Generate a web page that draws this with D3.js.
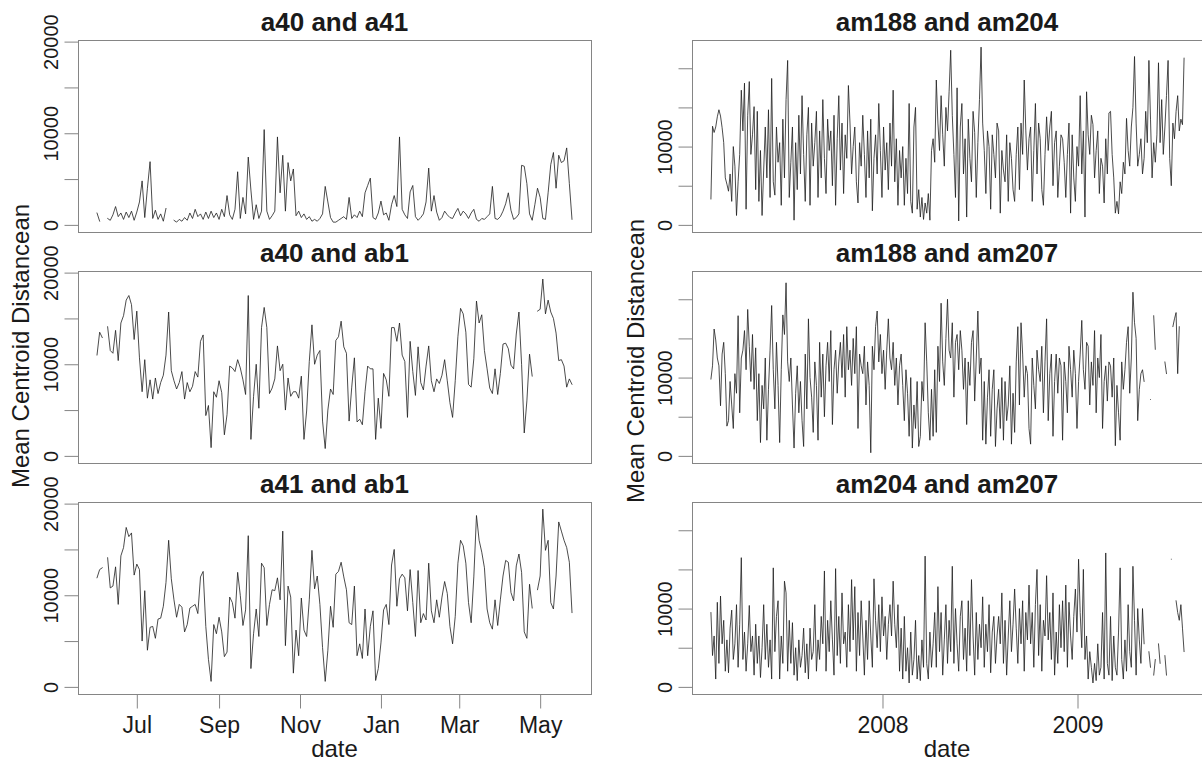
<!DOCTYPE html>
<html>
<head>
<meta charset="utf-8">
<script src="https://cdn.jsdelivr.net/npm/d3@7"></script>
<style>
  body { margin: 0; background: #fff; }
  svg { display: block; }
  text { font-family: "Liberation Sans", Arial, Helvetica, sans-serif; fill: #1a1a1a; }
</style>
</head>
<body>
<svg id="chart" width="1202" height="767"></svg>
<script>
// ---- Sampling of the two station groups ----
const leftStart = "2008-06-01";   // first day of the a40/a41/ab1 series
const leftStepDays = 2;
const rightStart = "2007-02-13";  // first day of the am188/am204/am207 series
const rightStepDays = 3;

// ---- Panel titles ----
const leftTitles = ["a40 and a41", "a40 and ab1", "a41 and ab1"];
const rightTitles = ["am188 and am204", "am188 and am207", "am204 and am207"];

// ---- Mean centroid distance, left group (null = no data) ----
const a40_a41 = [
  1300, 400, null, null, 700, 500, 1100, 2000, 900, 1300,
  600, 1400, 800, 1500, 500, 1400, 2500, 4800, 800, 4000,
  6900, 700, 1600, 600, 1200, 400, 1800, null, null, 500,
  300, 600, 400, 800, 500, 1300, 700, 1700, 900, 1200,
  600, 1400, 700, 1500, 800, 1300, 600, 1700, 900, 3200,
  1100, 600, 1700, 5800, 700, 3000, 1200, 7400, 3800, 600,
  2200, 700, 1500, 10400, 1500, 600, 1000, 1500, 9600, 3500,
  7600, 1500, 6800, 4800, 6100, 1000, 1500, 800, 1200, 600,
  900, 400, 600, 400, 700, 1200, 4200, 2500, 800, 300,
  300, 500, 700, 900, 600, 3000, 700, 1100, 800, 1500,
  900, 3500, 4300, 5100, 800, 600, 1300, 2600, 1100, 1300,
  500, 2200, 3200, 2000, 9600, 1700, 1100, 700, 3600, 4300,
  900, 500, 800, 1200, 2500, 6200, 1500, 3200, 1400, 500,
  800, 1500, 1100, 800, 700, 1300, 1800, 1000, 1500, 1200,
  700, 1300, 1700, 600, 400, 700, 600, 900, 1200, 4200,
  700, 600, 900, 1500, 2300, 3500, 1600, 600, 800, 1200,
  6500, 6400, 4500, 1200, 500, 2200, 4000, 3000, 700, 600,
  3500, 6600, 7900, 4000, 7600, 6800, 7000, 8400, 4500, 600
];
const a40_ab1 = [
  11000, 13500, 12900, null, 14100, 11500, 11200, 13700, 10400, 14500,
  15300, 17000, 17500, 16500, 12700, 15800, 10700, 7000, 10500, 6300,
  8300, 6200, 8500, 6800, 8000, 8800, 11000, 15700, 9300, 8200,
  7300, 8000, 9200, 6200, 8000, 7000, 7600, 9200, 8600, 12500,
  13200, 4400, 5500, 900, 7000, 6400, 8200, 6900, 2300, 4500,
  9800, 9600, 9200, 10500, 9600, 8300, 6700, 17500, 1800, 6500,
  10000, 5200, 14000, 16200, 14000, 6800, 7400, 8400, 12000, 9300,
  10000, 5000, 8500, 6500, 7000, 7000, 6300, 8700, 1800, 4900,
  10300, 14300, 10000, 11000, 11500, 3800, 800, 5000, 7300, 6700,
  12600, 13000, 14700, 11900, 11200, 3800, 7500, 10700, 3700, 4000,
  3400, 7000, 9800, 9500, 9500, 1800, 6300, 3000, 9000, 8300,
  6500, 14000, 14000, 12500, 14500, 11000, 10300, 4200, 12500, 9200,
  6600, 11900, 8000, 7200, 9800, 12000, 8200, 7000, 8400, 7900,
  8800, 10500, 8200, 5800, 4200, 8200, 13000, 16100, 15500, 13500,
  7800, 7500, 10600, 16900, 14500, 15400, 11500, 9500, 7400, 6800,
  9500, 6700, 9000, 12200, 12300, 11700, 9900, 9500, 13300, 15700,
  10000, 2500, 6000, 11100, 8700, null, 15800, 16000, 19300, 15500,
  17000, 15700, 15000, 13400, 10400, 10500, 9800, 7500, 8400, 7800
];
const a41_ab1 = [
  11900, 12800, 13000, null, 14100, 10800, 11000, 13100, 9000, 14300,
  15200, 17400, 16400, 16800, 12200, 13400, 12800, 5000, 10500, 4000,
  6500, 6600, 5300, 7400, 7500, 8800, 11400, 16000, 11800, 9500,
  7600, 9000, 8700, 6000, 6800, 8600, 8800, 9000, 8000, 12000,
  12600, 6600, 3000, 600, 6800, 5800, 7600, 6000, 3300, 3800,
  9800, 9200, 7500, 12500, 10000, 6700, 8400, 16500, 2000, 5800,
  8500, 5500, 13500, 13000, 6700, 9000, 10600, 10500, 11900, 9500,
  17000, 4500, 11000, 9800, 1500, 6200, 3400, 9700, 6200, 5500,
  9500, 14900, 10700, 12100, 9000, 4300, 600, 4000, 8800, 6500,
  12300, 12600, 13600, 12000, 10600, 7000, 6800, 11000, 3400, 4700,
  3100, 8500, 3400, 6600, 8300, 700, 2000, 4800, 8400, 9000,
  6800, 13300, 15000, 8800, 11800, 12300, 11900, 8300, 12800, 9200,
  5500, 12700, 7000, 8000, 7300, 13500, 8300, 7000, 9500, 7600,
  9800, 11500, 10200, 6600, 4700, 7700, 13500, 16000, 15400, 13500,
  9200, 7000, 12000, 18700, 16000, 14700, 13000, 8500, 7000, 6300,
  9500, 6700, 9500, 12100, 13800, 13600, 10300, 9400, 13200, 14500,
  12500, 6000, 5300, 11200, 8600, null, 10600, 12100, 19400, 14900,
  16000, 9200, 8500, 12100, 18000, 17000, 16000, 15200, 13600, 8100
];

// ---- Mean centroid distance, right group (null = no data) ----
const am188_am204 = [
  3300, 12600, 11800, 12500, 13800, 14700, 13900, 12400, 10500, 6000,
  5200, 4300, 6500, 3000, 10000, 7500, 1200, 5500, 9000, 17200,
  12000, 18100, 2000, 14000, 18300, 9000, 11500, 15100, 4500, 14500,
  3000, 9500, 1200, 7000, 12500, 6000, 14700, 3500, 18700, 5500,
  3800, 12500, 8000, 10500, 2500, 13500, 6000, 16000, 21000, 3500,
  8000, 12500, 600, 10500, 4500, 14000, 6500, 16500, 9000, 3000,
  11500, 15000, 2500, 13000, 7500, 10500, 14500, 3500, 12000, 6000,
  16000, 8500, 4000, 13500, 9500, 12000, 5000, 14000, 2500, 11000,
  16500, 7000, 13000, 4000, 11500, 8500, 17800, 13000, 6500, 10000,
  12500, 5500, 2800, 10500, 7500, 14000, 9000, 3500, 12000, 6000,
  13500, 1800, 8500, 11500, 6500, 15500, 9500, 3500, 12500, 7000,
  10500, 4500, 13000, 7500, 17200, 5500, 11000, 2500, 9500, 6000,
  10000, 2500, 8500, 4000, 15500, 3000, 1500, 12500, 15000, 2000,
  4500, 1000, 3500, 700, 2800, 1500, 4000, 600, 9500, 11000,
  8000, 18500, 13000, 9500, 16500, 11500, 7500, 15000, 12000, 17000,
  22300, 14000, 9000, 3500, 17500, 500, 12500, 15500, 6500, 11000,
  1000, 13500, 8500, 5500, 14500, 11800, 3500, 10500, 16000, 22700,
  13000, 9500, 4000, 12000, 10000, 2000, 11500, 9000, 6000, 13000,
  12000, 1500, 9500, 7000, 5500, 11500, 3000, 10500, 8500, 4500,
  3000, 9000, 12500, 4500, 13000, 9000, 18500, 12000, 7000, 11000,
  12500, 3000, 9500, 15500, 6500, 13000, 11000, 4500, 2500, 9000,
  13800, 9500, 12500, 14500, 5000, 10500, 12000, 3500, 7500, 11500,
  11000, 8000, 3500, 9000, 13000, 1500, 11500, 6000, 3000, 10000,
  7500, 16500, 6500, 12000, 1000, 17000, 11500, 9000, 14000, 12800,
  6000, 9500, 12000, 4000, 8500, 7500, 2800, 11000, 6500, 14300,
  14500, 9000, 6000, 1500, 3000, 1400, 5500, 4000, 8000, 6500,
  13600, 9500, 7500, 12500, 15000, 21500, 13000, 7500, 9000, 11000,
  6500, 8500, 14500, 10500, 21000, 13500, 6000, 10500, 8000, 11500,
  20700, 10500, 16000, 9000, 12500, 16500, 21000, 8500, 5000, 13000,
  11000, 14500, 16500, 12000, 13500, 12800, 21300
];
const am188_am207 = [
  9800, 11500, 16200, 14800, 12500, 11500, 6400, 13000, 14500, 10500,
  3800, 4500, 9500, 6500, 3500, 10500, 8000, 17900, 5500, 12500,
  13500, 16000, 11000, 18700, 14000, 9500, 15500, 8500, 13800, 4500,
  10500, 1700, 9000, 6000, 12500, 2000, 8500, 13500, 19200, 11000,
  6000, 14500, 9000, 1700, 11000, 18000, 15500, 22100, 12000, 9500,
  12500, 6500, 1000, 8000, 11500, 5500, 9500, 4500, 1200, 13000,
  6000, 17500, 10000, 7500, 3000, 12000, 9000, 2000, 14500, 7500,
  13000, 5000, 11500, 14500, 9500, 16000, 4000, 11000, 13500, 8000,
  12000, 14500, 10000, 15500, 7500, 16500, 11000, 13500, 9000, 15000,
  10500, 16500, 3500, 13000, 11500, 10500, 14000, 6500, 12000, 9000,
  400, 14000, 11000, 16500, 18500, 12000, 15500, 10500, 13500, 8500,
  13500, 17500, 12500, 11000, 14500, 9000, 12500, 6500, 11500, 13000,
  9000, 4500, 11000, 8000, 2500, 10000, 1000, 6500, 3500, 9500,
  1200, 2500, 9500, 7000, 17000, 12000, 5500, 2000, 8500, 2500,
  11000, 3000, 14000, 9500, 19500, 12000, 9000, 15000, 20000, 13500,
  12500, 17000, 7500, 14500, 15500, 11000, 16000, 13500, 8500, 12500,
  4000, 12000, 9000, 14500, 16000, 7000, 12500, 18500, 10500, 12500,
  2000, 9500, 1500, 7500, 11000, 2500, 8500, 11000, 1200, 6000,
  8500, 3500, 10000, 2000, 9500, 4500, 6500, 11500, 1500, 8000,
  3000, 12000, 16500, 6500, 17000, 13000, 7500, 11500, 10500, 3500,
  1500, 12500, 9000, 6000, 13500, 11000, 9500, 14000, 5500, 12000,
  17500, 4500, 10500, 13000, 2500, 9500, 13000, 8000, 12500, 11500,
  2000, 12000, 9500, 5500, 14000, 11000, 7500, 13500, 10500, 3500,
  9500, 13000, 17300, 11000, 8500, 14500, 14000, 6500, 12000, 9000,
  16000, 5500, 12500, 10000, 15500, 3500, 9500, 11500, 7000, 12000,
  11500, 7500, 12500, 1300, 9000, 5500, 2000, 12000, 8500, 11000,
  14500, 16500, 8000, 12500, 20900, 17000, 15000, 4500, 8500, 10500,
  11000, 9500, null, null, null, 7200, null, 17900, 13600, null,
  null, null, null, null, 12000, 10500, null, null, null, 16500,
  17500, 18300, 10500, 16500, null, null, null
];
const am204_am207 = [
  9500, 4000, 6500, 1000, 10800, 3000, 11600, 5500, 8500, 2000,
  6000, 1800, 7500, 9800, 3500, 5500, 10500, 2500, 8000, 16500,
  3500, 7000, 2000, 5500, 10400, 4500, 6500, 1500, 8000, 3000,
  6500, 1200, 5000, 10500, 3500, 8000, 2500, 6000, 1000, 15200,
  4500, 9000, 11000, 1000, 6500, 3000, 13500, 12000, 2000, 8500,
  3000, 8200, 1500, 5000, 800, 6000, 2500, 4000, 7500, 1800,
  5500, 1000, 7500, 3500, 4500, 10500, 2000, 6000, 3500, 9000,
  5500, 14800, 2000, 8500, 4500, 11000, 6000, 1500, 15100, 4000,
  9000, 3000, 12000, 5500, 7000, 2500, 10500, 4500, 13700, 6000,
  12800, 2000, 9500, 4000, 11000, 6500, 1500, 8500, 3500, 11000,
  6500, 2500, 13800, 8500, 5000, 10500, 4500, 11500, 6500, 9000,
  3500, 8000, 10500, 6500, 13500, 8000, 5000, 10500, 2000, 7500,
  1000, 9000, 2000, 5000, 500, 7000, 1500, 3500, 8500, 1000,
  4000, 800, 6000, 2500, 16700, 3000, 1000, 7000, 2500, 5500,
  9500, 2500, 12800, 4500, 9500, 1500, 6000, 10500, 3000, 8500,
  4500, 15400, 3000, 10000, 5500, 2000, 9000, 11000, 3500, 7500,
  2000, 11000, 4000, 13700, 6500, 1500, 9500, 3500, 8000, 5000,
  11500, 2500, 8000, 4500, 10500, 1800, 7000, 9000, 3000, 6500,
  9000, 5500, 12000, 3000, 8500, 1500, 6500, 11000, 4500, 8000,
  12500, 7500, 3000, 10000, 5500, 11000, 2000, 9500, 6000, 13000,
  5500, 9500, 2500, 10500, 15000, 4000, 10500, 2000, 8500, 6500,
  14200, 6000, 9500, 3500, 12000, 1500, 7000, 3000, 10500, 5000,
  11000, 4500, 13000, 2500, 10800, 6500, 3500, 9000, 12500, 7000,
  16300, 9500, 5000, 15000, 3500, 6500, 1000, 4500, 2500, 500,
  3000, 800, 5500, 1500, 2500, 9500, 1000, 17100, 3000, 1500,
  9000, 800, 6500, 2500, 1500, 7000, 15200, 3500, 1000, 6000,
  2000, 10500, 4500, 2500, 15400, 8500, 1500, 10000, 6000, 3000,
  10000, 5500, null, null, 4500, 2500, null, 1500, 3500, null,
  5500, 3000, null, null, 4000, 1500, null, null, 16300, null,
  null, 11000, 9500, 8500, 10500, 7500, 4500
];

// ---- Axis ticks and labels ----
const yTicks = [0, 5000, 10000, 15000, 20000];
const leftYLabels = [0, 10000, 20000];
const rightYLabels = [0, 10000];
const leftXTicks = ["2008-07-01", "2008-09-01", "2008-11-01", "2009-01-01", "2009-03-01", "2009-05-01"];
const rightXTicks = ["2008-01-01", "2009-01-01"];
const yAxisTitle = "Mean Centroid Distancean";
const xAxisTitle = "date";

// ---- Layout ----
const svg = d3.select("#chart");
const parse = d3.utcParse("%Y-%m-%d");
const rowTops = [40, 271, 502];
const rowH = 192;
const gridColor = "#858585";

const columns = [
  { x0: 78, x1: 591, start: leftStart, step: leftStepDays, titles: leftTitles,
    series: [a40_a41, a40_ab1, a41_ab1], yLabels: leftYLabels,
    xTicks: leftXTicks, xFormat: "%b", ylabX: 29, ylabY: 346 },
  { x0: 692, x1: 1203, start: rightStart, step: rightStepDays, titles: rightTitles,
    series: [am188_am204, am188_am207, am204_am207], yLabels: rightYLabels,
    xTicks: rightXTicks, xFormat: "%Y", ylabX: 644, ylabY: 361 }
];

columns.forEach(col => {
  const t0 = parse(col.start);
  const n = d3.max(col.series, s => s.length);
  const t1 = d3.utcDay.offset(t0, (n - 1) * col.step);
  const padT = (t1 - t0) * 0.04;
  const x = d3.scaleUtc()
    .domain([new Date(+t0 - padT), new Date(+t1 + padT)])
    .range([col.x0, col.x1]);

  const yMax = d3.max(col.series, s => d3.max(s));
  const yMin = 0;
  const padY = (yMax - yMin) * 0.04;
  const centerX = (col.x0 + Math.min(col.x1, 1202)) / 2;

  col.series.forEach((values, r) => {
    const top = rowTops[r];
    const bottom = top + rowH;
    const y = d3.scaleLinear().domain([yMin - padY, yMax + padY]).range([bottom, top]);

    const pts = values.map((v, i) => ({ t: d3.utcDay.offset(t0, i * col.step), v }));

    const g = svg.append("g");

    // panel title
    g.append("text")
      .attr("x", centerX)
      .attr("y", top - 9)
      .attr("text-anchor", "middle")
      .attr("font-size", 26)
      .attr("font-weight", "bold")
      .text(col.titles[r]);

    // series line
    const line = d3.line()
      .defined(d => d.v != null)
      .x(d => x(d.t))
      .y(d => y(d.v));
    g.append("path")
      .datum(pts)
      .attr("d", line)
      .attr("fill", "none")
      .attr("stroke", "#1e1e1e")
      .attr("stroke-width", 0.8)
      .attr("stroke-linecap", "round")
      .attr("stroke-linejoin", "round");

    // frame
    g.append("rect")
      .attr("x", col.x0 + 0.5)
      .attr("y", top + 0.5)
      .attr("width", col.x1 - col.x0)
      .attr("height", rowH)
      .attr("fill", "none")
      .attr("stroke", gridColor)
      .attr("stroke-width", 1);

    // y axis
    const yAxis = d3.axisLeft(y)
      .tickValues(yTicks)
      .tickSize(14)
      .tickFormat(v => col.yLabels.includes(v) ? String(v) : "");
    const ya = g.append("g")
      .attr("transform", `translate(${col.x0 + 0.5},0)`)
      .call(yAxis);
    ya.select(".domain").remove();
    ya.selectAll(".tick line").attr("stroke", gridColor);
    ya.selectAll(".tick text")
      .attr("x", 0).attr("dy", 0)
      .attr("transform", "translate(-21,0) rotate(-90)")
      .attr("text-anchor", "middle")
      .attr("font-size", 20)
      .attr("font-family", null)
      .attr("fill", "#1a1a1a");

    // x axis only on the bottom row
    if (r === rowTops.length - 1) {
      const xAxis = d3.axisBottom(x)
        .tickValues(col.xTicks.map(parse))
        .tickSize(14)
        .tickPadding(8)
        .tickFormat(d3.utcFormat(col.xFormat));
      const xa = g.append("g")
        .attr("transform", `translate(0,${bottom + 0.5})`)
        .call(xAxis);
      xa.select(".domain").remove();
      xa.selectAll(".tick line").attr("stroke", gridColor);
      xa.selectAll(".tick text")
        .attr("font-size", 23)
        .attr("font-family", null)
        .attr("fill", "#1a1a1a");

      g.append("text")
        .attr("x", centerX)
        .attr("y", 757)
        .attr("text-anchor", "middle")
        .attr("font-size", 24)
        .text(xAxisTitle);
    }
  });

  // y axis title
  svg.append("text")
    .attr("transform", `translate(${col.ylabX},${col.ylabY}) rotate(-90)`)
    .attr("text-anchor", "middle")
    .attr("font-size", 24)
    .text(yAxisTitle);
});
</script>
</body>
</html>
